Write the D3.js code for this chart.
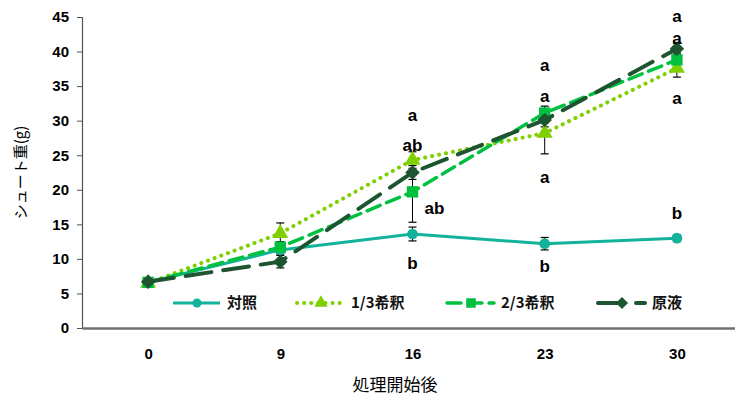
<!DOCTYPE html>
<html>
<head>
<meta charset="utf-8">
<script src="https://cdn.jsdelivr.net/npm/d3@7"></script>
<style>
  html, body { margin: 0; padding: 0; background: #fff; }
  svg { display: block; }
</style>
</head>
<body>
<svg id="chart" width="735" height="400"></svg>
<script>
// Days after treatment start
const days = ["0", "9", "16", "23", "30"];

// Shoot weight (g) per treatment
const control = [6.6, 11.3, 13.6, 12.2, 13.0];
const dil13   = [6.5, 13.7, 24.3, 28.2, 37.6];
const dil23   = [6.6, 11.7, 19.7, 31.1, 38.8];
const stock   = [6.7, 9.6, 22.5, 30.1, 40.4];

// Standard errors
const controlErr = [0.5, 0.6, 1.0, 0.9, 0.5];
const dil13Err   = [0.5, 1.5, 1.2, 3.0, 1.3];
const dil23Err   = [0.5, 0.8, 4.4, 1.0, 1.0];
const stockErr   = [0.5, 0.9, 1.0, 1.0, 0.8];

const seriesNames = ["対照", "1/3希釈", "2/3希釈", "原液"];
const yTicks = [0, 5, 10, 15, 20, 25, 30, 35, 40, 45];

// Significance letters: day, text, value position, x offset
const letterDays   = ["16", "16", "16", "16", "23", "23", "23", "23", "30", "30", "30", "30"];
const letterTexts  = ["a", "ab", "ab", "b", "a", "a", "a", "b", "a", "a", "a", "b"];
const letterValues = [30.8, 26.4, 17.4, 9.4, 38.0, 33.6, 21.9, 9.0, 45.2, 42.0, 33.3, 16.6];
const letterShift  = [0, 0, 1, 0, 0, 0, 0, 0, 0, 0, 0, 0];

const svg = d3.select("#chart");
const plotLeft = 82, plotRight = 743, plotTop = 17, plotBottom = 328;

const x = d3.scalePoint().domain(days).range([plotLeft, plotRight]).padding(0.5);
const y = d3.scaleLinear().domain([0, 45]).range([plotBottom, plotTop]);

const styles = [
  { name: seriesNames[0], vals: control, err: controlErr, color: "#12b39a", dash: null, width: 3, cap: "butt", marker: "circle" },
  { name: seriesNames[1], vals: dil13, err: dil13Err, color: "#7fd000", dash: "0.1 7", width: 4, cap: "round", marker: "triangle" },
  { name: seriesNames[2], vals: dil23, err: dil23Err, color: "#00c040", dash: "14 7", width: 3.5, cap: "round", marker: "square" },
  { name: seriesNames[3], vals: stock, err: stockErr, color: "#1d5530", dash: "26 12", width: 4, cap: "round", marker: "diamond" }
];

// Diamonds are squares turned 45 degrees
const symbolType = {
  circle: d3.symbolCircle,
  triangle: d3.symbolTriangle,
  square: d3.symbolSquare,
  diamond: d3.symbolSquare
};
const symbolRotate = { circle: 0, triangle: 0, square: 0, diamond: 45 };
const symbolSize = { circle: 90, triangle: 110, square: 130, diamond: 105 };

// Axes
const yAxis = d3.axisLeft(y).tickValues(yTicks).tickSize(5).tickPadding(8);
const gy = svg.append("g").attr("transform", `translate(${plotLeft},0)`).call(yAxis);
gy.select(".domain").attr("stroke", "#555").attr("stroke-width", 1.2);
gy.selectAll(".tick line").attr("stroke", "#555");
gy.selectAll(".tick text")
  .attr("font-family", "Liberation Sans, Arial, sans-serif")
  .attr("font-weight", "bold").attr("font-size", 15).attr("fill", "#000");

const xAxis = d3.axisBottom(x).tickSize(0).tickPadding(20);
const gx = svg.append("g").attr("transform", `translate(0,${plotBottom})`).call(xAxis);
gx.select(".domain").attr("stroke", "#707070").attr("stroke-width", 2.5);
gx.selectAll(".tick text")
  .attr("font-family", "Liberation Sans, Arial, sans-serif")
  .attr("font-weight", "bold").attr("font-size", 15).attr("fill", "#000");

// Axis titles
svg.append("text")
  .attr("transform", `translate(26,${(plotTop + plotBottom) / 2}) rotate(-90)`)
  .attr("text-anchor", "middle")
  .attr("font-family", "Noto Sans CJK JP, sans-serif")
  .attr("font-size", 15).attr("fill", "#000")
  .text("シュート重(g)");

svg.append("text")
  .attr("x", 395).attr("y", 391)
  .attr("text-anchor", "middle")
  .attr("font-family", "Noto Sans CJK JP, sans-serif")
  .attr("font-size", 17).attr("fill", "#000")
  .text("処理開始後");

// Error bars
const eb = svg.append("g");
styles.forEach(s => {
  days.forEach((d, i) => {
    const cx = x(d), y1 = y(s.vals[i] - s.err[i]), y2 = y(s.vals[i] + s.err[i]);
    eb.append("line").attr("x1", cx).attr("x2", cx).attr("y1", y1).attr("y2", y2)
      .attr("stroke", "#000").attr("stroke-width", 1);
    [y1, y2].forEach(yy => eb.append("line")
      .attr("x1", cx - 4).attr("x2", cx + 4).attr("y1", yy).attr("y2", yy)
      .attr("stroke", "#000").attr("stroke-width", 1.2));
  });
});

// Lines and markers
const line = d3.line().x((v, i) => x(days[i])).y(v => y(v));
styles.forEach(s => {
  svg.append("path").datum(s.vals)
    .attr("d", line).attr("fill", "none")
    .attr("stroke", s.color).attr("stroke-width", s.width)
    .attr("stroke-linecap", s.cap)
    .attr("stroke-dasharray", s.dash);
  svg.append("g").selectAll("path").data(s.vals).join("path")
    .attr("transform", (v, i) => `translate(${x(days[i])},${y(v)}) rotate(${symbolRotate[s.marker]})`)
    .attr("d", d3.symbol().type(symbolType[s.marker]).size(symbolSize[s.marker]))
    .attr("fill", s.color);
});

// Significance letters
svg.append("g").selectAll("text").data(letterTexts).join("text")
  .attr("x", (t, i) => x(letterDays[i]) + letterShift[i] * 22)
  .attr("y", (t, i) => y(letterValues[i]))
  .attr("dy", "0.35em")
  .attr("text-anchor", "middle")
  .attr("font-family", "Liberation Sans, Arial, sans-serif")
  .attr("font-weight", "bold").attr("font-size", 17).attr("fill", "#000")
  .text(t => t);

// Legend
const legendX = [173, 297, 447, 598];
const legend = svg.append("g");
styles.forEach((s, i) => {
  const lx = legendX[i], ly = 303;
  legend.append("line").attr("x1", lx).attr("x2", lx + 47).attr("y1", ly).attr("y2", ly)
    .attr("stroke", s.color).attr("stroke-width", s.width)
    .attr("stroke-linecap", s.cap).attr("stroke-dasharray", s.dash);
  legend.append("path")
    .attr("transform", `translate(${lx + 24},${ly}) rotate(${symbolRotate[s.marker]})`)
    .attr("d", d3.symbol().type(symbolType[s.marker]).size(symbolSize[s.marker] * 0.7))
    .attr("fill", s.color);
  legend.append("text").attr("x", lx + 54).attr("y", ly).attr("dy", "0.35em")
    .attr("font-family", "Noto Sans CJK JP, sans-serif")
    .attr("font-weight", "bold").attr("font-size", 15).attr("fill", "#111")
    .text(s.name);
});
</script>
</body>
</html>
